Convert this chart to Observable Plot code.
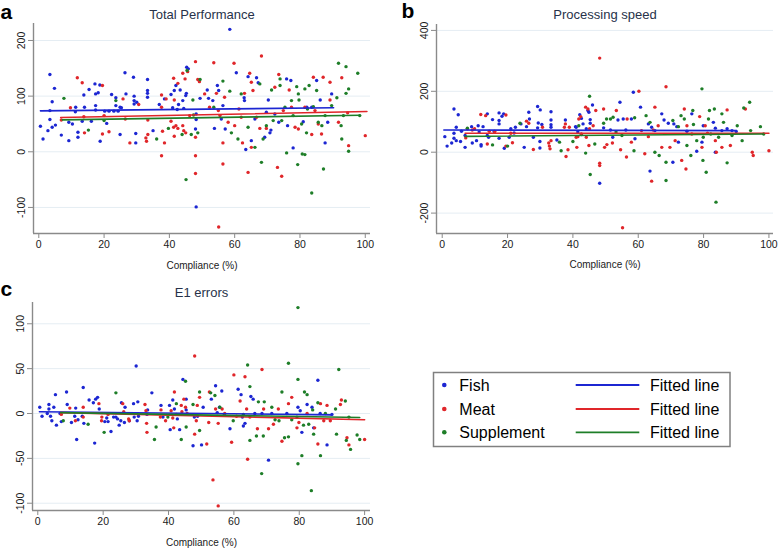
<!DOCTYPE html>
<html><head><meta charset="utf-8">
<script src="https://cdn.jsdelivr.net/npm/d3@7"></script>
<script src="https://cdn.jsdelivr.net/npm/@observablehq/plot@0.6"></script>
<style>
body{margin:0;background:#fff;}
#wrap{position:relative;width:778px;height:549px;font-family:Arial,"Liberation Sans",sans-serif;overflow:hidden;}
.panel{position:absolute;}
#overlay{position:absolute;left:0;top:0;pointer-events:none;}
</style></head><body><div id="wrap"></div>
<script>
// ---------- data ----------
const groups = ["Fish", "Meat", "Supplement"];
const groupColors = ["#1c26d2", "#e0262a", "#1e7e28"];
const xTicks = [0, 20, 40, 60, 80, 100];
const xLabel = "Compliance (%)";

// Panel a: Total Performance
const perfFish = [[0.5,46],[1.3,23],[2.8,38],[3.4,139],[3.4,74],[3.4,58],[4.1,90],[4.1,44],[4.8,114],[5.1,48],[6.9,30],[9.2,53],[9.2,20],[10.3,50],[11.3,80],[11.2,72],[12,35],[12,26],[13.3,55],[13.8,102],[14,80],[15.4,112],[16.1,55],[17.2,122],[17.4,104],[17.4,83],[17.4,75],[18.2,106],[18.7,120],[18.8,19],[20.2,73],[20.8,51],[21.5,73],[22.3,103],[23,73],[23.6,97],[23.6,83],[24.3,73],[24.9,31],[24.9,80],[25.3,79],[26.4,142],[26.7,104],[29,134],[29.2,100],[29.2,92],[29.2,86],[29.7,33],[29.7,16],[30,89],[33.3,130],[33.3,110],[33.3,105],[33.3,98],[35,38],[36.9,85],[38.5,95],[40.5,103],[41,79],[41.5,110],[42,119],[42.4,76],[42.8,85],[43.3,111],[44.1,92],[44.4,78],[45,101],[45.3,152],[45.8,149],[45.2,105],[48.2,68],[48.2,58],[48,41],[48.2,-99],[49.4,96],[51.6,111],[52,96],[53.3,92],[53.8,42],[54.7,119],[55.1,110],[55.9,59],[56.4,83],[57.1,41],[58.5,220],[60.5,142],[62.9,97],[63,92],[63.4,4],[64.1,135],[65.1,20],[66.2,59],[66.7,133],[67.2,124],[69.2,26],[69.7,71],[70.3,93],[70.8,34],[71.1,39],[72.3,68],[73.5,53],[75.9,131],[76.2,47],[77.2,128],[77.9,7],[81,54],[82.1,80],[83.6,80],[85.1,128],[86.2,93],[87.7,16],[88.5,53],[89.7,104]];
const perfMeat = [[6.9,57],[9.7,79],[11.8,133],[13.3,124],[13.8,63],[14,34],[19.5,119],[19.5,32],[20,65],[21.5,36],[25.8,95],[26.5,59],[27.9,16],[30.6,85],[32.8,25],[33,19],[33.4,57],[33.4,31],[37.6,102],[37.6,80],[37.9,37],[37.6,-7],[38.5,16],[39,95],[40.5,55],[41.3,132],[41.3,44],[41.5,93],[41.5,28],[42.6,123],[42,47],[42.6,42],[44.1,141],[44.1,47],[44.8,131],[44.4,38],[45,34],[45.6,144],[46.2,65],[48,162],[48,26],[48,-7],[48,-39],[48.7,130],[49.2,126],[50.8,104],[52.3,80],[53.6,160],[54.4,105],[55,74],[55.5,65],[55.1,-135],[56.4,-22],[56.9,98],[56.4,16],[58,53],[59.8,159],[60,47],[61.3,77],[62,62],[62.4,16],[63,105],[64.1,-37],[64.6,141],[65.1,125],[65.6,110],[65.1,8],[66.7,62],[68.2,172],[67.7,42],[69.7,42],[72.3,116],[73.1,-28],[73.5,139],[74.4,-44],[74.9,74],[76.7,111],[77.4,80],[78.5,44],[79.5,41],[81.5,80],[83.6,31],[84.1,134],[84.6,74],[85.6,50],[86.6,32],[87.1,134],[89.2,125],[89.2,93],[91.8,53],[92.8,133],[94.6,70],[94.9,11],[100,29]];
const perfSupp = [[7.7,96],[15.2,39],[20,56],[23.6,92],[36.1,23],[39.7,42],[43.9,31],[45.4,146],[45.1,-50],[47.2,93],[47.4,66],[46.7,31],[48.7,34],[49.4,130],[53.6,80],[56.4,127],[58.5,109],[59,34],[61,23],[62,104],[64.1,44],[66.2,8],[67.7,122],[68.2,-19],[68.7,23],[69.7,47],[71.3,111],[71.8,56],[73.9,131],[73.9,119],[74.4,56],[75.4,80],[75.9,-2],[77.4,92],[77.9,65],[79,117],[79.3,-23],[79.5,104],[79.7,93],[80.5,50],[80.7,-4],[81.5,-5],[81.5,113],[82.3,77],[82,34],[82.8,119],[83.6,-74],[84.1,81],[85.1,110],[85.6,53],[86.7,47],[87.2,-31],[87.7,65],[89.7,83],[91.3,97],[91.8,159],[92.6,47],[92.8,23],[93.3,65],[94.1,153],[94.1,105],[94.9,113],[94.9,1],[97.7,141],[98.3,65]];
const perfFitFish = [[0.5,73.6],[90.3,79]];
const perfFitMeat = [[6.7,61.6],[100.5,72.3]];
const perfFitSupp = [[7.2,57.4],[98.5,65.7]];
const perfYTicks = [-100, 0, 100, 200];

// Panel b: Processing speed
const speedFish = [[0.8,51],[1.5,20],[2.9,30],[3.6,142],[3.6,62],[3.6,46],[4.3,82],[4.3,38],[4.9,123],[5.6,35],[5.9,69],[7,55],[7,16],[9,84],[9.2,30],[10.5,38],[11,87],[11.3,66],[11.9,25],[11.9,20],[12.5,84],[13.8,55],[13.8,126],[14.2,49],[15.4,107],[15.9,68],[17.4,129],[17.4,104],[17.4,93],[17.4,46],[18.3,118],[18.8,126],[19,13],[20.5,49],[21,77],[22,63],[22.4,82],[24.1,93],[25.1,16],[25.8,84],[26.5,131],[26.7,109],[27.9,49],[29.2,150],[29.4,96],[29.2,80],[30,139],[29.9,35],[29.9,14],[30.5,91],[33.3,133],[33.3,106],[33.3,90],[33.3,82],[35.1,40],[37.7,106],[40.8,84],[41,82],[41.5,66],[42.1,123],[42.6,111],[43.1,93],[44.1,77],[44.6,137],[44.9,131],[45.3,107],[45.3,95],[46,155],[42.6,58],[48.2,-102],[49.4,80],[51.5,73],[52.2,49],[53.8,106],[54.4,164],[55.4,109],[56.2,73],[57.9,109],[58.5,197],[59,44],[60.7,148],[63.1,93],[63.6,-62],[64.1,82],[65.1,71],[67.2,126],[67.9,106],[69.2,95],[70.6,-33],[70.9,93],[71.8,84],[72.3,33],[74.9,69],[76.4,126],[77.9,3],[79.9,87],[79.5,33],[83,98],[83.6,79],[83.6,0],[85.6,71],[87.2,77],[88.7,71],[90,68]];
const speedMeat = [[7.2,47],[7.7,77],[9.2,73],[9.9,77],[11.8,124],[13.3,120],[13.8,27],[14.4,69],[16.1,68],[19.5,122],[19.5,20],[21,62],[21.5,31],[25.8,102],[26.5,95],[27.9,9],[30.7,82],[32.6,30],[32.8,20],[33,11],[33.3,38],[37.4,82],[37.7,93],[37.9,-14],[38.5,8],[38.9,82],[41,49],[41.2,16],[41.5,51],[41.8,109],[42.4,117],[42.6,60],[43.9,148],[44.1,49],[44.6,142],[44.9,22],[45.1,77],[46.2,87],[47,137],[48.2,309],[48.2,-36],[48.2,-44],[49.4,142],[49.7,16],[50.4,25],[52.1,30],[53.3,137],[54.6,8],[55.2,-248],[56.4,-16],[56.6,109],[57.9,33],[60.2,200],[61,71],[62,-5],[63.1,51],[64.1,-95],[64.6,73],[65.1,148],[66.1,87],[67.2,16],[68.5,215],[69.7,16],[71.3,38],[73.3,-27],[74.1,142],[74.6,-55],[74.9,87],[76.4,60],[78.8,117],[79.5,16],[80.5,87],[81.2,62],[83.6,38],[83.9,0],[85.6,16],[87.2,139],[88.2,22],[92.8,142],[94.9,0],[95.2,-11],[100,5]];
const speedSupp = [[7.7,79],[15.4,24],[20,20],[23.8,95],[35.9,33],[36.4,5],[40,35],[41.8,87],[43.9,-3],[45.1,184],[45.3,-73],[46.7,27],[49.4,95],[50.3,109],[51.5,109],[52.3,115],[53.2,66],[55,55],[58.7,5],[58.9,113],[62.4,120],[63.6,98],[65.1,0],[66.4,-11],[68.5,-33],[68.5,-93],[70.6,104],[72.3,84],[73.1,120],[74.1,109],[74.9,22],[76.1,-11],[76.7,137],[76.9,91],[77.9,38],[79.5,208],[79.8,-27],[79.9,49],[80.8,-66],[81.5,109],[81.8,137],[82.2,60],[83.3,142],[83.8,-164],[84.6,49],[85.6,126],[86.1,98],[87.2,-35],[88.7,55],[90.3,87],[91.8,38],[92.3,145],[94.1,164],[94.4,71],[97.4,84],[98.4,60]];
const speedFitFish = [[0.5,73],[90,71]];
const speedFitMeat = [[7,62],[100,62]];
const speedFitSupp = [[7,52],[98.4,60]];
const speedYTicks = [-200, 0, 200, 400];

// Panel c: E1 errors
const errFish = [[0.6,7],[1.3,-3],[2.9,0],[3.4,10],[3.4,5],[3.9,-3],[4.3,-8],[4.9,7],[5.4,21],[5.7,-13],[6.8,0],[7.2,-9],[8.8,24],[9,10],[10.3,-10],[11.3,-3],[11.6,6],[11.9,-29],[12.3,-7],[13.6,-3],[13.9,29],[14.1,-11],[15.7,15],[17,12],[17.4,-33],[17.7,16],[18.3,18],[18.8,5],[20.5,-9],[21.1,-5],[21.5,-9],[22.4,-20],[23.2,-4],[23.9,-4],[24.4,-6],[24.9,-13],[25.4,-8],[25.6,12],[26.7,7],[26.5,-10],[28,-8],[29.3,11],[29.5,-4],[30.1,53],[30.4,-8],[30.6,13],[30.8,-3],[33.4,-1],[33.6,4],[34.9,23],[37.7,9],[38.3,-4],[40.3,9],[40.5,-18],[41.3,15],[41.8,5],[42.7,-6],[43.4,-18],[44.4,38],[45.4,16],[45.4,4],[47.9,-4],[48.9,-3],[47.5,-36],[50.6,7],[50.1,-35],[53.1,16],[54.4,31],[54.9,1],[55.6,7],[56.3,25],[57.1,-1],[58.8,-17],[61.3,27],[62.2,21],[62.6,-4],[62.9,-14],[63.4,-11],[65.2,19],[65.9,16],[66.4,0],[68.6,0],[70.6,-52],[71.6,0],[76.2,0],[79.6,7],[80.3,3],[80.8,-21],[82.4,10],[83.9,7],[85.7,37],[84.4,-16],[86.4,0],[88.5,-35],[90,-1]];
const errMeat = [[7.2,-1],[9.8,6],[11.5,-8],[13.9,7],[13.9,-4],[18.7,11],[19.6,-4],[19.5,-8],[21.5,-1],[26,11],[26.3,2],[27.8,-6],[28,-8],[32.8,10],[33.1,3],[33.3,-11],[33.4,-21],[37.7,4],[37.5,-4],[39.1,-8],[40.8,3],[41.3,-5],[41.8,24],[41.6,-16],[42.4,-1],[43.9,9],[44.1,2],[44.7,16],[45.2,7],[45.7,0],[48,64],[48,-23],[48.5,-8],[48.8,9],[49.5,18],[51.7,-34],[52.3,-10],[52.5,24],[53.6,-74],[54.4,5],[55.2,-103],[55.2,-11],[56.4,5],[57.2,0],[59.3,-32],[60,43],[60.8,-3],[61.9,14],[63.4,41],[63.9,5],[64.2,-51],[64.9,-4],[67.2,-17],[68.6,49],[69.1,5],[70.6,-17],[72.1,-12],[73.6,5],[74.7,-31],[76.7,11],[77.7,18],[79.3,-16],[79.9,-10],[82.4,0],[84.7,-16],[85.7,-34],[86.5,11],[87.5,-8],[88.5,9],[89.5,-8],[92.6,10],[92.9,15],[94.6,-27],[95.2,-35],[100,-29]];
const errSupp = [[7.8,-8],[15.4,-12],[20.3,-21],[23.9,23],[35.7,-29],[36.2,-15],[39.8,-4],[42.4,11],[43.9,-29],[45.2,36],[45.4,-15],[47.5,10],[49.5,24],[49.5,-19],[52.9,23],[54.2,20],[55.7,7],[59.8,-8],[62.9,-1],[64.2,54],[64.9,30],[64.9,-30],[66.9,-25],[67.5,13],[68.5,-67],[69,-25],[69.3,13],[71.6,7],[72.6,-7],[73.8,-8],[74.7,24],[75.5,-27],[76.7,56],[76.7,-26],[77.7,-7],[79.3,-4],[79.6,118],[79.6,38],[79.6,-56],[80.8,-47],[81.3,-13],[81.6,24],[82.4,21],[82.9,-12],[83.7,-86],[84.1,4],[84.4,-23],[85.7,12],[86.5,-47],[88,0],[91.1,5],[91.4,-23],[92.1,49],[94.1,14],[94.4,-30],[95.2,-4],[95.7,-40],[97.7,-24],[98.5,-29]];
const errFitFish = [[0.5,2],[90,-1.5]];
const errFitMeat = [[7,1],[100,-7]];
const errFitSupp = [[7,1],[98.5,-4.5]];
const errYTicks = [-100, -50, 0, 50, 100];

// ---------- drawing ----------
const axisColor = "#8a8a8a";
const gridColor = "#e5edf3";
const textColor = "#1a1a1a";
const titleColor = "#27324a";
const font = "Arial, 'Liberation Sans', sans-serif";

function rows(series) {
  return series.flatMap((pts, i) => pts.map(([x, y]) => ({group: groups[i], x, y})));
}

function panel(o) {
  const dots = rows(o.points);
  const fits = rows(o.fits);
  const svg = Plot.plot({
    width: o.width, height: o.height,
    marginLeft: o.mL, marginRight: o.mR, marginTop: o.mT, marginBottom: o.mB,
    x: {domain: o.xDom, axis: null},
    y: {domain: o.yDom, axis: null},
    color: {domain: groups, range: groupColors},
    style: {fontFamily: font, background: "transparent", overflow: "visible", color: textColor},
    marks: [
      Plot.ruleY(o.yTicks, {stroke: gridColor, strokeWidth: 1}),
      Plot.dot(dots, {x: "x", y: "y", fill: "group", r: 1.7, stroke: null}),
      Plot.line(fits, {x: "x", y: "y", stroke: "group", z: "group", strokeWidth: 1.6}),
      Plot.ruleX([o.xDom[0]], {stroke: axisColor, strokeWidth: 1.4}),
      Plot.ruleY([o.yDom[0]], {stroke: axisColor, strokeWidth: 1.4}),
      Plot.axisX({ticks: xTicks, tickSize: 5, tickPadding: 2, fontSize: 10.5, stroke: axisColor, fill: textColor, label: null}),
      Plot.axisY({ticks: o.yTicks, tickSize: 5, tickFormat: () => "", stroke: axisColor, label: null}),
      Plot.text(o.yTicks, {frameAnchor: "left", y: d => d, text: d => String(d), rotate: -90, dx: -12, textAnchor: "middle", lineAnchor: "middle", fontSize: 10.5, fill: textColor}),
      Plot.text([o.title], {frameAnchor: "top", dy: o.titleDy, fontSize: 13, fill: titleColor, lineAnchor: "middle"}),
      Plot.text([xLabel], {frameAnchor: "bottom", dy: o.labelDy, fontSize: 10, fill: textColor, lineAnchor: "middle"})
    ]
  });
  svg.classList.add("panel");
  svg.style.left = o.left + "px";
  svg.style.top = o.top + "px";
  document.getElementById("wrap").appendChild(svg);
}

panel({left: 0, top: 0, width: 390, height: 275, mL: 33, mR: 20, mT: 23, mB: 42,
  xDom: [-1.62, 101.6], yDom: [-146.8, 230.5], yTicks: perfYTicks,
  title: "Total Performance", titleDy: -9, labelDy: 32,
  points: [perfFish, perfMeat, perfSupp], fits: [perfFitFish, perfFitMeat, perfFitSupp]});

panel({left: 395, top: 0, width: 383, height: 275, mL: 41, mR: 5, mT: 24, mB: 42,
  xDom: [-1.75, 101.4], yDom: [-267, 419.4], yTicks: speedYTicks,
  title: "Processing speed", titleDy: -10, labelDy: 31,
  points: [speedFish, speedMeat, speedSupp], fits: [speedFitFish, speedFitMeat, speedFitSupp]});

panel({left: 0, top: 280, width: 390, height: 269, mL: 32, mR: 20, mT: 22, mB: 39,
  xDom: [-1.62, 101.8], yDom: [-108.1, 123.7], yTicks: errYTicks,
  title: "E1 errors", titleDy: -9.5, labelDy: 32.7,
  points: [errFish, errMeat, errSupp], fits: [errFitFish, errFitMeat, errFitSupp]});

// overlay: panel letters and legend
const ns = "http://www.w3.org/2000/svg";
const ov = document.createElementNS(ns, "svg");
ov.setAttribute("id", "overlay");
ov.setAttribute("width", 778);
ov.setAttribute("height", 549);
function el(tag, attrs, text) {
  const e = document.createElementNS(ns, tag);
  for (const k in attrs) e.setAttribute(k, attrs[k]);
  if (text != null) e.textContent = text;
  ov.appendChild(e);
  return e;
}
const letters = [["a", 0.5, 18.5], ["b", 401.5, 18.3], ["c", 0.5, 295.7]];
for (const [t, x, y] of letters) el("text", {x, y, "font-family": font, "font-size": 21, "font-weight": "bold", fill: "#000"}, t);

el("rect", {x: 433.5, y: 372.5, width: 296.5, height: 74, fill: "#fff", stroke: "#808080", "stroke-width": 1.5});
const legendY = [385, 409, 432.3];
groups.forEach((g, i) => {
  const y = legendY[i];
  el("circle", {cx: 444.3, cy: y, r: 2.3, fill: groupColors[i]});
  el("text", {x: 459.3, y, "dominant-baseline": "central", "font-family": font, "font-size": 16, fill: "#000"}, g);
  el("line", {x1: 575.7, x2: 639.3, y1: y, y2: y, stroke: groupColors[i], "stroke-width": 1.8});
  el("text", {x: 650, y, "dominant-baseline": "central", "font-family": font, "font-size": 16, fill: "#000"}, "Fitted line");
});
document.getElementById("wrap").appendChild(ov);
</script>
</body></html>
